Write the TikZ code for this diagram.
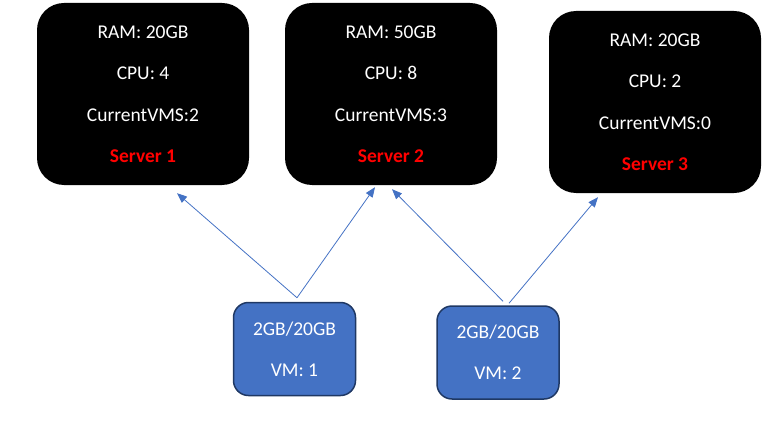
\documentclass[tikz,border=0pt]{standalone}
\usepackage{fontspec}
\setmainfont{Carlito}
\usetikzlibrary{arrows.meta}
\usetikzlibrary{calc}

\definecolor{vmblue}{HTML}{4472C4}
\definecolor{vmedge}{HTML}{1F3864}
\definecolor{srvred}{HTML}{FF0000}

\tikzset{
  server/.style={fill=black, rounded corners=27pt, minimum width=212pt, minimum height=182pt,
    text=white, align=center, font=\fontsize{19.5}{41.5}\selectfont},
  vm/.style={fill=vmblue, draw=vmedge, line width=1.5pt, rounded corners=15pt,
    minimum width=122pt, minimum height=93pt, text=white, align=center,
    font=\fontsize{19.5}{41}\selectfont},
  link/.style={draw=vmblue, line width=0.8pt, -{Triangle[length=10pt,width=8pt]}}
}

\begin{document}
\begin{tikzpicture}[x=1pt,y=-1pt]
            \useasboundingbox (0,0) rectangle (775,422);
            \node[server] (S1) at (143,94) {RAM: 20GB\\CPU: 4\\CurrentVMS:2\\{\color{srvred}\bfseries Server 1}};
            \node[server] (S2) at (391,94) {RAM: 50GB\\CPU: 8\\CurrentVMS:3\\{\color{srvred}\bfseries Server 2}};
            \node[server] (S3) at (655,102) {RAM: 20GB\\CPU: 2\\CurrentVMS:0\\{\color{srvred}\bfseries Server 3}};
            \node[vm] (VM1) at (294.5,349) {2GB/20GB\\VM: 1};
            \node[vm] (VM2) at (498,352.5) {2GB/20GB\\VM: 2};
            \draw[link] ($(VM1.north) + (2.5,-4)$) to ($(S1.south) + (34,8)$);
            \draw[link] ($(VM1.north) + (2.5,-4)$) to ($(S2.south) + (-16,2)$);
            \draw[link] ($(VM2.north) + (5,-4)$) to ($(S2.south) + (1,4)$);
            \draw[link] ($(VM2.north) + (11,-2)$) to ($(S3.south) + (-57,4)$);
        \end{tikzpicture}
\end{document}
